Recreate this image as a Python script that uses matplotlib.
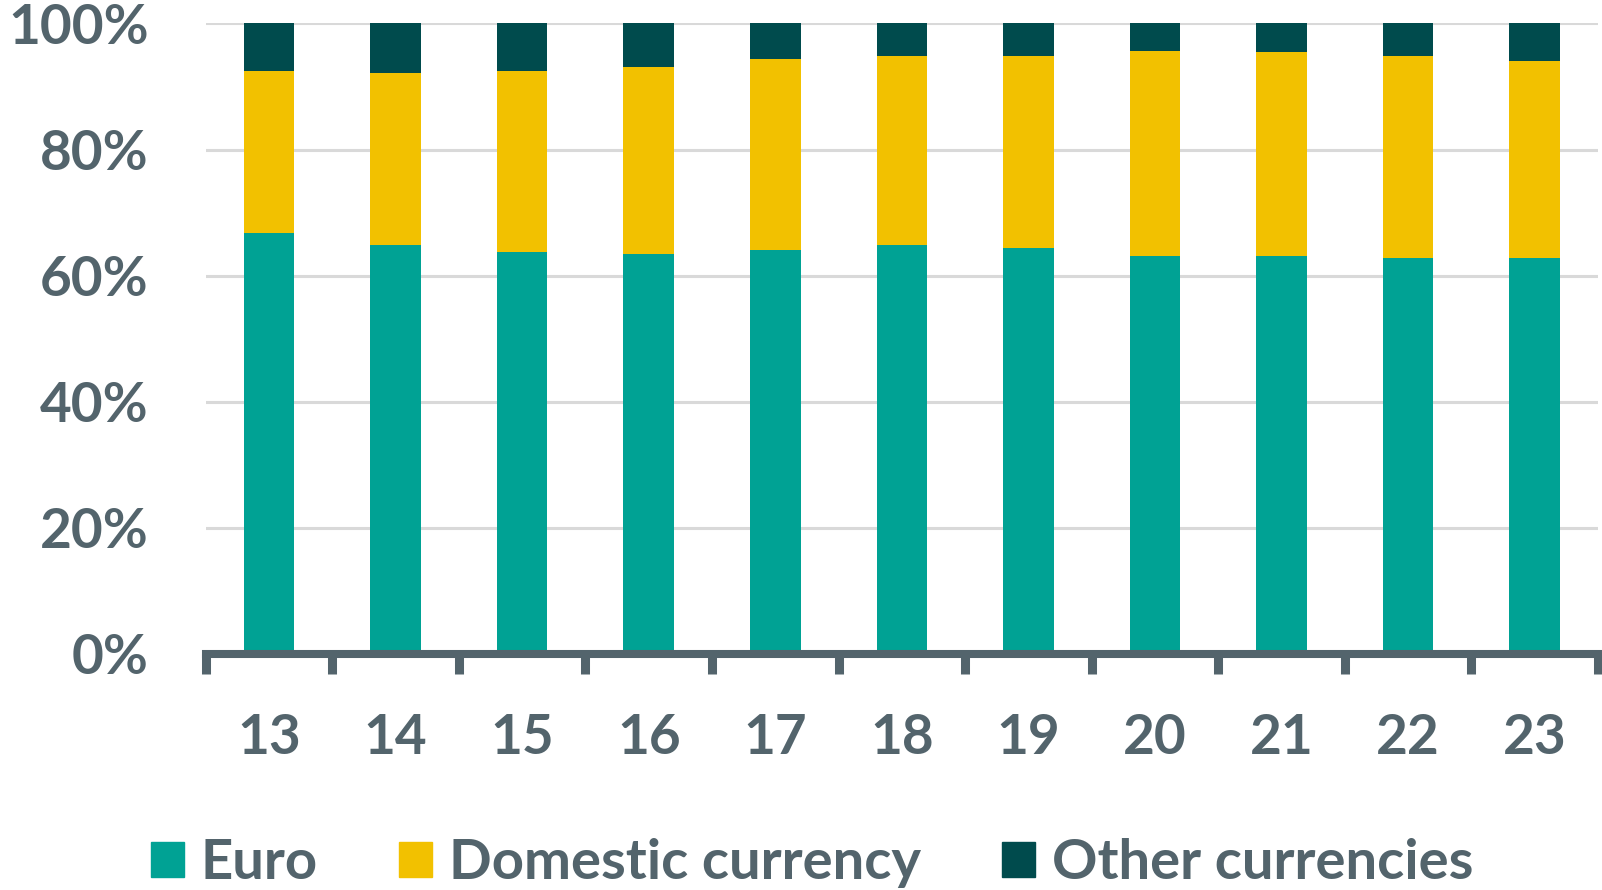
import matplotlib
import matplotlib.pyplot as plt
import numpy as np
from matplotlib.patches import Patch

matplotlib.use("Agg")

# Data (percent shares)
years = ["13", "14", "15", "16", "17", "18", "19", "20", "21", "22", "23"]
euro = [66.8, 64.9, 63.7, 63.4, 64.1, 64.9, 64.3, 63.1, 63.1, 62.8, 62.8]
domestic_top = [92.5, 92.2, 92.5, 93.1, 94.4, 94.9, 94.9, 95.6, 95.5, 94.9, 94.0]
domestic = [d - e for d, e in zip(domestic_top, euro)]
other = [100 - d for d in domestic_top]

C_EURO = "#00a294"
C_DOM = "#f2c100"
C_OTHER = "#004b4d"
C_TEXT = "#53646c"
C_GRID = "#d9d9d9"

plt.rcParams["font.family"] = ["Lato", "DejaVu Sans"]
plt.rcParams["font.weight"] = "bold"

fig = plt.figure(figsize=(16.02, 8.90), dpi=100)
ax = fig.add_axes([0.1284, 0.2657, 0.8691, 0.7079])

x = np.arange(len(years))
w = 0.40
ax.bar(x, euro, w, color=C_EURO, zorder=2)
ax.bar(x, domestic, w, bottom=euro, color=C_DOM, zorder=2)
ax.bar(x, other, w, bottom=domestic_top, color=C_OTHER, zorder=2)

ax.set_xlim(-0.5, len(years) - 0.5)
ax.set_ylim(0, 100)

ax.set_yticks([0, 20, 40, 60, 80, 100])
ax.set_yticklabels([f"{v}%" for v in [0, 20, 40, 60, 80, 100]])
ax.yaxis.grid(True, color=C_GRID, linewidth=2.2, zorder=0)
ax.set_axisbelow(True)
ax.tick_params(axis="y", length=0, pad=41, labelsize=39.5, labelcolor=C_TEXT)

ax.set_xticks(x)
ax.set_xticklabels(years)
ax.set_xticks(np.arange(-0.5, len(years)), minor=True)
ax.tick_params(axis="x", which="major", length=0, pad=43, labelsize=39.5, labelcolor=C_TEXT)
ax.tick_params(axis="x", which="minor", length=14.5, width=6.5, color=C_TEXT, direction="out")

for s in ["top", "right", "left"]:
    ax.spines[s].set_visible(False)
ax.spines["bottom"].set_color(C_TEXT)
ax.spines["bottom"].set_linewidth(5.8)
ax.spines["bottom"].set_zorder(3)

handles = [Patch(color=C_EURO, label="Euro"),
           Patch(color=C_DOM, label="Domestic currency"),
           Patch(color=C_OTHER, label="Other currencies")]
leg = fig.legend(handles=handles, loc="center", bbox_to_anchor=(0.507, 0.03), ncol=3,
                 frameon=False, fontsize=40.5, handlelength=0.58, handleheight=0.58,
                 handletextpad=0.3, columnspacing=1.45, borderaxespad=0)
for t in leg.get_texts():
    t.set_color(C_TEXT)

plt.savefig("out.png", dpi=100)
plt.close()
